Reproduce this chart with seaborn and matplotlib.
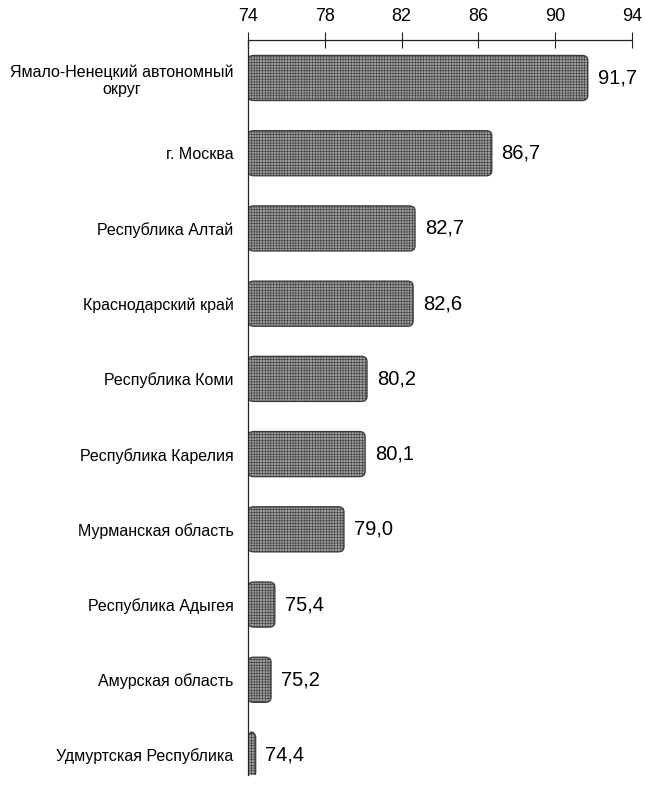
import matplotlib
matplotlib.use("Agg")
import matplotlib.pyplot as plt
import seaborn as sns
import pandas as pd
from matplotlib.patches import FancyBboxPatch

categories = [
    "Ямало-Ненецкий автономный\nокруг",
    "г. Москва",
    "Республика Алтай",
    "Краснодарский край",
    "Республика Коми",
    "Республика Карелия",
    "Мурманская область",
    "Республика Адыгея",
    "Амурская область",
    "Удмуртская Республика",
]
values = [91.7, 86.7, 82.7, 82.6, 80.2, 80.1, 79.0, 75.4, 75.2, 74.4]
x_ticks = [74, 78, 82, 86, 90, 94]

sns.set_theme(style="white")
plt.rcParams["font.family"] = ["Liberation Sans", "DejaVu Sans"]
plt.rcParams["hatch.linewidth"] = 0.4
plt.rcParams["hatch.color"] = "#555555"

df = pd.DataFrame({"region": categories, "value": values})

fig = plt.figure(figsize=(6.45, 7.91), dpi=100)
ax = fig.add_axes([248 / 645, 1 - 775 / 791, (632 - 248) / 645, (775 - 40) / 791])

sns.barplot(data=df, x="value", y="region", orient="h", ax=ax, width=0.6,
            color="#a0a0a0", saturation=1)

ax.set_xlim(74, 94)
ax.set_ylim(9.266, -0.505)

# replace bars with rounded versions using library geometry
bars = list(ax.patches)
for p in bars:
    y0, h = p.get_y(), p.get_height()
    right = p.get_x() + p.get_width()
    fb = FancyBboxPatch((74, y0), right - 74, h,
                        boxstyle="round,pad=0,rounding_size=0.3",
                        mutation_aspect=0.22,
                        facecolor="#9c9c9c", edgecolor="#3a3a3a",
                        linewidth=0.9, hatch="++++++", zorder=2)
    ax.add_patch(fb)
    p.remove()

for i, v in enumerate(values):
    ax.annotate(f"{v:.1f}".replace(".", ","), xy=(v, i), xytext=(7, 0),
                textcoords="offset points", va="center", ha="left",
                fontsize=14.5, color="black")

ax.xaxis.tick_top()
ax.set_xticks(x_ticks)
ax.set_xticklabels([str(t) for t in x_ticks], fontsize=13, color="black")
ax.tick_params(axis="x", direction="inout", length=11, width=0.8, color="#222222",
               pad=5, top=True, bottom=False)
ax.tick_params(axis="y", length=0, labelsize=11.5, pad=10.5, labelcolor="black")
for lbl in ax.get_yticklabels():
    lbl.set_multialignment("center")
ax.set_xlabel("")
ax.set_ylabel("")
for s in ["right", "bottom"]:
    ax.spines[s].set_visible(False)
for s in ["top", "left"]:
    ax.spines[s].set_color("#222222")
    ax.spines[s].set_linewidth(0.9)

fig.savefig("out.png", dpi=100)
